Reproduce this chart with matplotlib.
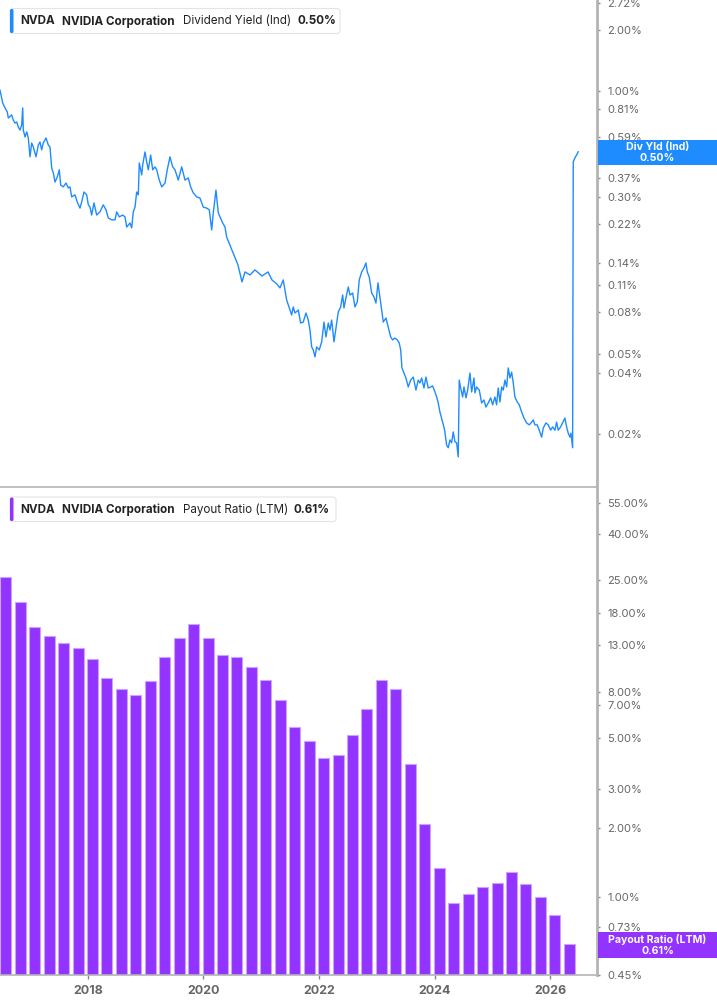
import matplotlib
matplotlib.use('Agg')
import matplotlib.pyplot as plt
from matplotlib.patches import FancyBboxPatch, Rectangle
from matplotlib.transforms import IdentityTransform

plt.rcParams['font.family'] = ['Inter', 'DejaVu Sans']

# ---------------- data ----------------
yield_dates = [
    2016.480, 2016.527, 2016.567, 2016.606, 2016.624, 2016.682, 2016.710, 2016.740, 2016.769, 2016.797,
    2016.826, 2016.855, 2016.873, 2016.883, 2016.913, 2016.942, 2016.970, 2016.999, 2017.028, 2017.056,
    2017.103, 2017.143, 2017.172, 2017.201, 2017.229, 2017.276, 2017.316, 2017.345, 2017.374, 2017.402,
    2017.432, 2017.471, 2017.506, 2017.530, 2017.575, 2017.622, 2017.662, 2017.691, 2017.720, 2017.778,
    2017.817, 2017.864, 2017.893, 2017.933, 2017.980, 2018.008, 2018.037, 2018.066, 2018.106, 2018.153,
    2018.210, 2018.267, 2018.314, 2018.354, 2018.413, 2018.470, 2018.499, 2018.544, 2018.603, 2018.643,
    2018.672, 2018.729, 2018.759, 2018.786, 2018.816, 2018.845, 2018.873, 2018.890, 2018.932, 2018.949,
    2018.989, 2019.018, 2019.046, 2019.087, 2019.122, 2019.162, 2019.191, 2019.236, 2019.278, 2019.335,
    2019.374, 2019.421, 2019.468, 2019.508, 2019.565, 2019.624, 2019.681, 2019.738, 2019.779, 2019.824,
    2019.883, 2019.940, 2019.997, 2020.056, 2020.101, 2020.143, 2020.170, 2020.217, 2020.257, 2020.286,
    2020.333, 2020.373, 2020.402, 2020.494, 2020.598, 2020.667, 2020.719, 2020.805, 2020.892, 2021.013,
    2021.117, 2021.186, 2021.272, 2021.324, 2021.381, 2021.440, 2021.497, 2021.527, 2021.554, 2021.584,
    2021.641, 2021.682, 2021.727, 2021.774, 2021.814, 2021.843, 2021.873, 2021.900, 2021.930, 2021.959,
    2022.004, 2022.046, 2022.086, 2022.120, 2022.160, 2022.189, 2022.219, 2022.259, 2022.305, 2022.333,
    2022.374, 2022.409, 2022.432, 2022.466, 2022.506, 2022.536, 2022.582, 2022.622, 2022.662, 2022.696,
    2022.738, 2022.778, 2022.812, 2022.835, 2022.869, 2022.911, 2022.951, 2022.985, 2023.020, 2023.054,
    2023.084, 2023.112, 2023.158, 2023.198, 2023.240, 2023.274, 2023.314, 2023.354, 2023.388, 2023.413,
    2023.435, 2023.470, 2023.504, 2023.544, 2023.586, 2023.631, 2023.677, 2023.717, 2023.747, 2023.776,
    2023.816, 2023.850, 2023.890, 2023.932, 2023.966, 2024.006, 2024.036, 2024.063, 2024.092, 2024.139,
    2024.174, 2024.208, 2024.236, 2024.265, 2024.295, 2024.322, 2024.352, 2024.381, 2024.409, 2024.426,
    2024.451, 2024.485, 2024.508, 2024.543, 2024.572, 2024.612, 2024.641, 2024.681, 2024.698, 2024.727,
    2024.773, 2024.814, 2024.854, 2024.888, 2024.928, 2024.970, 2025.004, 2025.044, 2025.073, 2025.101,
    2025.131, 2025.160, 2025.188, 2025.217, 2025.247, 2025.274, 2025.304, 2025.333, 2025.361, 2025.390,
    2025.430, 2025.465, 2025.506, 2025.546, 2025.592, 2025.638, 2025.679, 2025.707, 2025.736, 2025.776,
    2025.810, 2025.852, 2025.880, 2025.926, 2025.966, 2026.008, 2026.042, 2026.082, 2026.111, 2026.139,
    2026.181, 2026.215, 2026.255, 2026.284, 2026.312, 2026.342, 2026.359, 2026.388, 2026.399, 2026.428,
    2026.457, 2026.485,
]
yield_values = [
    1.01, 0.872, 0.824, 0.787, 0.735, 0.761, 0.718, 0.694, 0.702, 0.663,
    0.641, 0.679, 0.824, 0.641, 0.592, 0.627, 0.585, 0.472, 0.553, 0.528,
    0.472, 0.540, 0.559, 0.511, 0.553, 0.585, 0.540, 0.528, 0.416, 0.393,
    0.354, 0.375, 0.407, 0.342, 0.335, 0.350, 0.331, 0.335, 0.299, 0.306,
    0.282, 0.263, 0.282, 0.316, 0.306, 0.273, 0.266, 0.243, 0.279, 0.243,
    0.252, 0.273, 0.258, 0.235, 0.230, 0.230, 0.252, 0.238, 0.243, 0.238,
    0.212, 0.222, 0.210, 0.252, 0.266, 0.316, 0.306, 0.440, 0.384, 0.431,
    0.499, 0.446, 0.407, 0.482, 0.407, 0.421, 0.407, 0.362, 0.335, 0.350,
    0.407, 0.472, 0.421, 0.407, 0.362, 0.421, 0.362, 0.371, 0.335, 0.313,
    0.299, 0.295, 0.266, 0.263, 0.258, 0.205, 0.249, 0.323, 0.249, 0.238,
    0.222, 0.212, 0.189, 0.163, 0.1375, 0.1133, 0.127, 0.1227, 0.130, 0.1213,
    0.127, 0.1159, 0.1107, 0.1058, 0.1159, 0.0922, 0.0823, 0.0777, 0.0852, 0.0795,
    0.0823, 0.0709, 0.0717, 0.0795, 0.0734, 0.0655, 0.0540, 0.0522, 0.0482, 0.0540,
    0.0522, 0.0572, 0.0717, 0.0605, 0.0709, 0.0655, 0.0734, 0.0572, 0.0709, 0.0804,
    0.0852, 0.0976, 0.0842, 0.0944, 0.107, 0.0976, 0.0999, 0.0852, 0.0902, 0.1159,
    0.127, 0.1329, 0.1407, 0.127, 0.120, 0.0999, 0.0954, 0.0891, 0.112, 0.0954,
    0.0823, 0.0717, 0.0751, 0.0677, 0.0605, 0.0585, 0.0598, 0.0585, 0.0565, 0.0522,
    0.0425, 0.0401, 0.0379, 0.0342, 0.0370, 0.0383, 0.0330, 0.0370, 0.0358, 0.0379,
    0.0338, 0.0383, 0.0338, 0.0342, 0.0346, 0.0323, 0.0305, 0.0285, 0.0257, 0.0229,
    0.0209, 0.0176, 0.0171, 0.0187, 0.0181, 0.0205, 0.0183, 0.0181, 0.0154, 0.0370,
    0.0338, 0.0305, 0.0342, 0.0302, 0.0330, 0.0401, 0.0323, 0.0379, 0.0320, 0.0342,
    0.0330, 0.0285, 0.0295, 0.0272, 0.0285, 0.0302, 0.0279, 0.0305, 0.0279, 0.0338,
    0.0288, 0.0342, 0.0330, 0.0370, 0.0342, 0.0425, 0.0379, 0.0405, 0.0358, 0.0305,
    0.0288, 0.0279, 0.0257, 0.0240, 0.0227, 0.0222, 0.0229, 0.0235, 0.0222, 0.0222,
    0.0209, 0.0193, 0.0214, 0.0227, 0.0222, 0.0209, 0.0217, 0.0209, 0.0229, 0.0209,
    0.0217, 0.0227, 0.0240, 0.0217, 0.0202, 0.0193, 0.0202, 0.0171, 0.446, 0.466,
    0.482, 0.50,
]

payout_dates = [
    2016.58, 2016.83, 2017.08, 2017.33, 2017.58, 2017.83, 2018.08, 2018.33, 2018.58, 2018.83,
    2019.08, 2019.33, 2019.58, 2019.83, 2020.08, 2020.33, 2020.58, 2020.83, 2021.08, 2021.33,
    2021.58, 2021.83, 2022.08, 2022.33, 2022.58, 2022.83, 2023.08, 2023.33, 2023.58, 2023.83,
    2024.08, 2024.33, 2024.58, 2024.83, 2025.08, 2025.33, 2025.58, 2025.83, 2026.08, 2026.33,
]
payout_values = [
    25.8, 20.1, 15.6, 14.2, 13.2, 12.6, 11.2, 9.22, 8.27, 7.76,
    8.95, 11.4, 13.9, 16.1, 13.9, 11.7, 11.5, 10.3, 9.09, 7.42,
    5.60, 4.86, 4.09, 4.23, 5.16, 6.73, 9.09, 8.25, 3.84, 2.09,
    1.33, 0.927, 1.02, 1.09, 1.14, 1.28, 1.13, 0.99, 0.815, 0.61,
]

yield_ticks = [2.72, 2.00, 1.00, 0.81, 0.59, 0.37, 0.30, 0.22, 0.14, 0.11, 0.08, 0.05, 0.04, 0.02]
payout_ticks = [55, 40, 25, 18, 13, 8, 7, 5, 3, 2, 1, 0.73, 0.45]
year_ticks = [2018, 2020, 2022, 2024, 2026]

ticker = "NVDA"
company = "NVIDIA Corporation"
yield_name = "Dividend Yield (Ind)"
payout_name = "Payout Ratio (LTM)"
yield_last = "0.50%"
payout_last = "0.61%"

# ---------------- style ----------------
BLUE = '#1E8BFF'
PURPLE = '#9333FF'
SPINE = '#b4b4b4'
TXT = '#666666'

W, H = 717, 1005
fig = plt.figure(figsize=(W / 100, H / 100), dpi=100)
fig.patch.set_facecolor('white')


def fx(px):
    return px / W


def fy(py):
    return 1 - py / H


XMIN, XMAX = 2016.48, 2026.81

ax1 = fig.add_axes([0, fy(487), fx(597), fy(0) - fy(487)])
ax2 = fig.add_axes([0, fy(975), fx(597), fy(489) - fy(975)])

for ax in (ax1, ax2):
    ax.set_facecolor('white')
    ax.set_yscale('log')
    ax.set_xlim(XMIN, XMAX)
    ax.yaxis.tick_right()
    ax.spines['left'].set_visible(False)
    ax.spines['top'].set_visible(False)
    ax.spines['right'].set_color(SPINE)
    ax.spines['right'].set_linewidth(2)
    ax.spines['bottom'].set_color(SPINE)
    ax.spines['bottom'].set_linewidth(1.2)
    ax.minorticks_off()
    ax.tick_params(axis='y', which='both', direction='out', length=2.5, width=1,
                   color='#888888', labelcolor=TXT, labelsize=8, pad=5)

# top: dividend yield line
ax1.plot(yield_dates, yield_values, color=BLUE, lw=1.0, solid_joinstyle='round')
ax1.set_ylim(0.01093, 2.823)
ax1.set_yticks(yield_ticks)
ax1.set_yticklabels([f'{v:.2f}%' for v in yield_ticks])
ax1.minorticks_off()
ax1.set_xticks([])

# bottom: payout ratio bars
ax2.bar(payout_dates, payout_values, width=0.19, bottom=0.01, color=PURPLE,
        edgecolor='#C9A3FF', linewidth=0.8, align='center')
ax2.set_ylim(0.45, 63.4)
ax2.set_yticks(payout_ticks)
ax2.set_yticklabels([f'{v:.2f}%' for v in payout_ticks])
ax2.minorticks_off()
ax2.set_xlim(XMIN, XMAX)
ax2.set_xticks(year_ticks)
ax2.set_xticklabels([str(y) for y in year_ticks])
ax2.tick_params(axis='x', direction='out', length=3, width=1, color='#888888',
                labelcolor=TXT, labelsize=9, pad=4)
for lbl in ax2.get_xticklabels():
    lbl.set_fontweight('bold')

# ---------------- annotations ----------------
ident = IdentityTransform()


def legend_box(top, bottom, right, color, parts):
    box = FancyBboxPatch((10, H - bottom), right - 10, bottom - top,
                         boxstyle='round,pad=0,rounding_size=3',
                         transform=ident, facecolor='white', edgecolor='#e4e4e4',
                         linewidth=0.8, zorder=5)
    fig.patches.append(box)
    bar = FancyBboxPatch((10, H - bottom + 0.5), 3.5, bottom - top - 1,
                         boxstyle='round,pad=0,rounding_size=1.5',
                         transform=ident, facecolor=color, edgecolor='none', zorder=6)
    fig.patches.append(bar)
    cy = (top + bottom) / 2 + 0.5
    for x, txt, weight in parts:
        fig.text(fx(x), fy(cy), txt, ha='left', va='center', fontsize=8.4,
                 fontweight=weight, color='#222222', zorder=7)


legend_box(8.5, 33.5, 340, BLUE,
           [(20.5, ticker, 'bold'), (62, company, 'bold'),
            (183, yield_name, 'normal'), (297, yield_last, 'bold')])
legend_box(497, 521.5, 336, PURPLE,
           [(20.5, ticker, 'bold'), (62, company, 'bold'),
            (183, payout_name, 'normal'), (293, payout_last, 'bold')])


def value_tag(top, bottom, color, line1, line2):
    rect = Rectangle((598, H - bottom), W - 598, bottom - top, transform=ident,
                     facecolor=color, edgecolor='none', zorder=8)
    fig.patches.append(rect)
    cx = (598 + W) / 2
    fig.text(fx(cx), fy(top + 7.5), line1, ha='center', va='center', fontsize=7.6,
             fontweight='bold', color='white', zorder=9)
    fig.text(fx(cx), fy(top + 18.5), line2, ha='center', va='center', fontsize=7.6,
             fontweight='bold', color='white', zorder=9)


value_tag(139.5, 165, BLUE, 'Div Yld (Ind)', yield_last)
value_tag(932, 957.5, PURPLE, payout_name, payout_last)

fig.savefig('out.png', dpi=100, facecolor='white')
